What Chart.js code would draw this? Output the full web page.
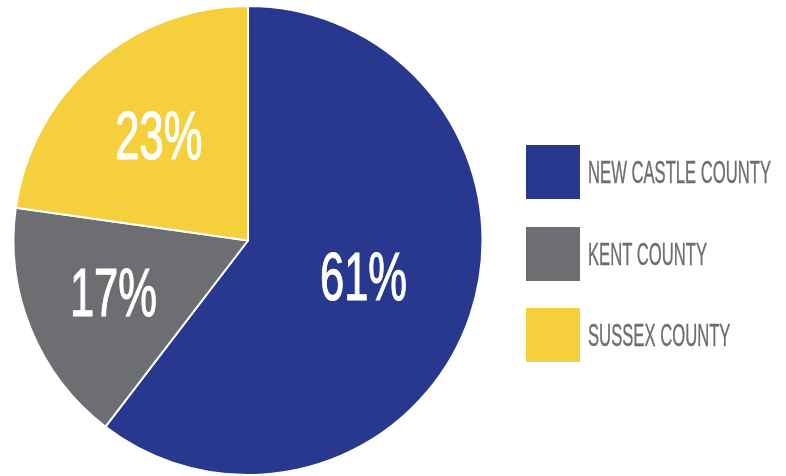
<!DOCTYPE html>
<html>
<head>
<meta charset="utf-8">
<script src="https://cdn.jsdelivr.net/npm/chart.js@4/dist/chart.umd.min.js"></script>
<style>
  html, body { margin: 0; padding: 0; background: #fff; }
  #wrap { position: relative; width: 786px; height: 476px; overflow: hidden; }
  #grafico1 { position: absolute; left: 0; top: 0; }
  #legenda { position: absolute; left: 526px; top: 145px; }
  .item { position: relative; height: 81.5px; }
  .caixa { position: absolute; left: 0; top: 0; width: 54px; height: 54px; }
  .texto {
    position: absolute; left: 62px; top: 27px;
    font-family: "Liberation Sans", Arial, sans-serif; font-size: 31px;
    color: #6d6e71; white-space: nowrap; line-height: 1;
    -webkit-text-stroke: 0.4px #6d6e71;
    transform-origin: 0 50%; transform: translateY(-50%) scaleX(0.537);
  }
</style>
</head>
<body>
<div id="wrap">
  <canvas id="grafico1" width="786" height="476"></canvas>
  <div id="legenda"></div>
</div>
<script>
const condados = ["NEW CASTLE COUNTY", "KENT COUNTY", "SUSSEX COUNTY"];
const percentuais = [61, 17, 23];
const cores = ["#28388f", "#6d6e71", "#f5cf3c"];

// distancia do rotulo ao centro, fracao do raio, por fatia
const raioRotulo = [0.52, 0.62, 0.58];

const legenda = document.getElementById('legenda');
for (let i = 0; i < condados.length; i++) {
    const item = document.createElement('div');
    item.className = 'item';
    const caixa = document.createElement('div');
    caixa.className = 'caixa';
    caixa.style.background = cores[i];
    const texto = document.createElement('div');
    texto.className = 'texto';
    texto.innerText = condados[i];
    item.append(caixa, texto);
    legenda.append(item);
}

const rotulos = {
    id: 'rotulos',
    afterDatasetsDraw(chart) {
        const ctx = chart.ctx;
        const arcos = chart.getDatasetMeta(0).data;
        arcos.forEach((arco, i) => {
            const p = arco.getProps(['x', 'y', 'startAngle', 'endAngle', 'outerRadius'], true);
            const meio = (p.startAngle + p.endAngle) / 2;
            const r = p.outerRadius * raioRotulo[i];
            const x = p.x + Math.cos(meio) * r;
            const y = p.y + Math.sin(meio) * r;
            ctx.save();
            ctx.translate(x, y);
            ctx.scale(0.64, 1);
            ctx.fillStyle = '#ffffff';
            ctx.strokeStyle = '#ffffff';
            ctx.lineWidth = 1.2;
            ctx.font = '68px "Liberation Sans", Arial, sans-serif';
            ctx.textAlign = 'center';
            ctx.textBaseline = 'middle';
            ctx.fillText(percentuais[i] + '%', 0, 2);
            ctx.strokeText(percentuais[i] + '%', 0, 2);
            ctx.restore();
        });
    }
};

const ctx = document.getElementById('grafico1').getContext('2d');
new Chart(ctx, {
    type: 'pie',
    data: {
        labels: condados,
        datasets: [{
            data: percentuais,
            backgroundColor: cores,
            borderColor: '#ffffff',
            borderWidth: 2
        }]
    },
    options: {
        responsive: false,
        animation: false,
        layout: { padding: { left: 12, right: 302, top: 5, bottom: 0 } },
        plugins: {
            legend: { display: false },
            tooltip: { enabled: false }
        }
    },
    plugins: [rotulos]
});
</script>
</body>
</html>
